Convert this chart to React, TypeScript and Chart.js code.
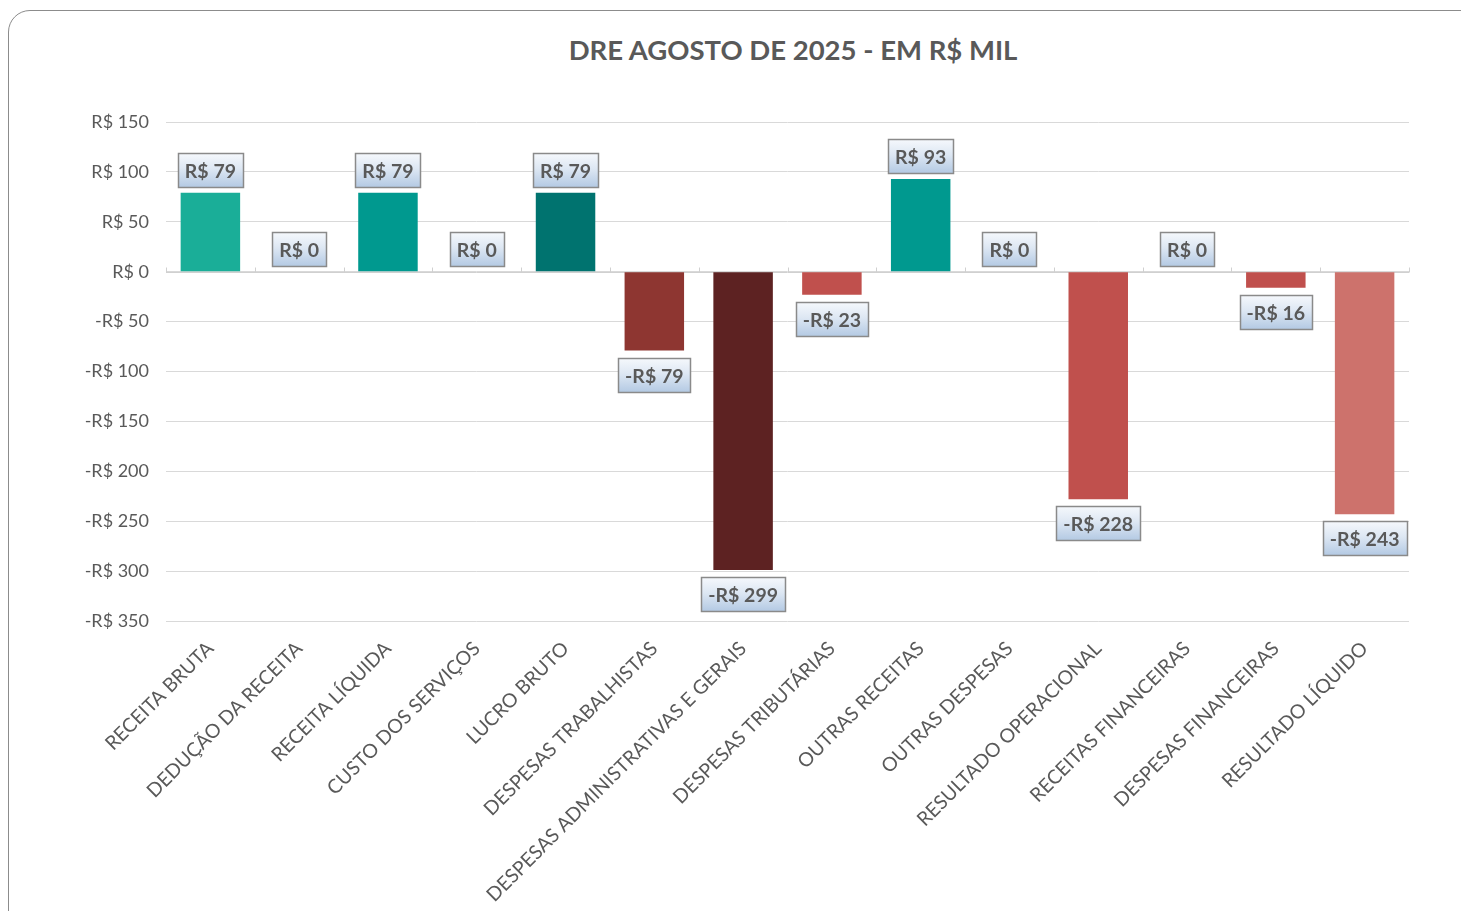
import React, { useEffect, useRef } from "react";
import { Chart, registerables } from "chart.js";

Chart.register(...registerables);

const title = "DRE AGOSTO DE 2025 - EM R$ MIL";

const categories = [
  "RECEITA BRUTA",
  "DEDUÇÃO DA RECEITA",
  "RECEITA LÍQUIDA",
  "CUSTO DOS SERVIÇOS",
  "LUCRO BRUTO",
  "DESPESAS TRABALHISTAS",
  "DESPESAS ADMINISTRATIVAS E GERAIS",
  "DESPESAS TRIBUTÁRIAS",
  "OUTRAS RECEITAS",
  "OUTRAS DESPESAS",
  "RESULTADO OPERACIONAL",
  "RECEITAS FINANCEIRAS",
  "DESPESAS FINANCEIRAS",
  "RESULTADO LÍQUIDO",
];

const values = [79, 0, 79, 0, 79, -79, -299, -23, 93, 0, -228, 0, -16, -243];

const barColors = [
  "#1aae98",
  "#1aae98",
  "#00998f",
  "#00998f",
  "#00736f",
  "#8e3631",
  "#5d2222",
  "#c0504d",
  "#00998f",
  "#00998f",
  "#c0504d",
  "#c0504d",
  "#c0504d",
  "#cd726c",
];

const yMin = -350;
const yMax = 150;
const yStep = 50;

const FONT = "Lato, 'Open Sans', 'DejaVu Sans', sans-serif";
const TEXT = "#595959";

function fmt(v: number): string {
  return (v < 0 ? "-" : "") + "R$ " + Math.abs(Math.round(v));
}

const zeroAxisPlugin = {
  id: "zeroAxis",
  beforeDatasetsDraw(chart: any) {
    const { ctx, chartArea, scales } = chart;
    const y0 = Math.round(scales.y.getPixelForValue(0)) + 0.5;
    ctx.save();
    ctx.strokeStyle = "#d0d0d0";
    ctx.lineWidth = 1;
    ctx.beginPath();
    ctx.moveTo(chartArea.left, y0);
    ctx.lineTo(chartArea.right, y0);
    const n = categories.length;
    const w = (chartArea.right - chartArea.left) / n;
    for (let i = 0; i <= n; i++) {
      const x = Math.round(chartArea.left + i * w) + 0.5;
      ctx.moveTo(x, y0);
      ctx.lineTo(x, y0 - 5);
    }
    ctx.stroke();
    ctx.restore();
  },
};

const boxLabelPlugin = {
  id: "boxLabels",
  afterDatasetsDraw(chart: any) {
    const { ctx } = chart;
    const meta = chart.getDatasetMeta(0);
    ctx.save();
    ctx.font = `bold 19.5px ${FONT}`;
    meta.data.forEach((bar: any, i: number) => {
      const v = values[i];
      const text = fmt(v);
      const tw = ctx.measureText(text).width;
      const w = Math.round(tw + 14);
      const h = 34;
      const x = Math.round(bar.x - w / 2) + 0.5;
      const y = Math.round(v < 0 ? bar.y + 7 : bar.y - 6 - h) + 0.5;
      const g = ctx.createLinearGradient(0, y, 0, y + h);
      g.addColorStop(0, "#f5f8fc");
      g.addColorStop(0.45, "#dde7f3");
      g.addColorStop(1, "#b3c9e3");
      ctx.fillStyle = g;
      ctx.fillRect(x, y, w, h);
      ctx.strokeStyle = "#8a8a8a";
      ctx.lineWidth = 1.5;
      ctx.strokeRect(x, y, w, h);
      ctx.fillStyle = TEXT;
      ctx.textAlign = "center";
      ctx.textBaseline = "middle";
      ctx.fillText(text, bar.x, y + h / 2 + 1);
    });
    ctx.restore();
  },
};

export default function App() {
  const canvasRef = useRef<HTMLCanvasElement | null>(null);

  useEffect(() => {
    let chart: Chart | null = null;
    let cancelled = false;
    const build = () => {
      if (cancelled || !canvasRef.current) return;
      chart = new Chart(canvasRef.current, {
        type: "bar",
        data: {
          labels: categories,
          datasets: [
            {
              data: values,
              backgroundColor: barColors,
              borderWidth: 0,
              barPercentage: 0.67,
              categoryPercentage: 1,
            },
          ],
        },
        options: {
          responsive: false,
          animation: false,
          layout: { padding: { top: 114, right: 60, left: 0, bottom: 0 } },
          plugins: {
            legend: { display: false },
            tooltip: { enabled: false },
            title: { display: false },
          },
          scales: {
            x: {
              grid: { display: false },
              border: { display: false },
              ticks: {
                autoSkip: false,
                maxRotation: 45,
                minRotation: 45,
                padding: 8,
                color: TEXT,
                font: { family: FONT, size: 19.5 },
              },
              afterFit(scale: any) {
                scale.height = 290;
              },
            },
            y: {
              min: yMin,
              max: yMax,
              grid: { color: "#d9d9d9", lineWidth: 1, drawTicks: false },
              border: { display: false },
              ticks: {
                stepSize: yStep,
                padding: 17,
                color: TEXT,
                font: { family: FONT, size: 18 },
                callback: (v: any) => fmt(Number(v)),
              },
              afterFit(scale: any) {
                scale.width = 158;
              },
            },
          },
        },
        plugins: [zeroAxisPlugin, boxLabelPlugin],
      });
    };
    if ((document as any).fonts && (document as any).fonts.load) {
      Promise.all([
        (document as any).fonts.load(`19px Lato`),
        (document as any).fonts.load(`bold 19px Lato`),
      ])
        .catch(() => {})
        .then(build);
    } else {
      build();
    }
    return () => {
      cancelled = true;
      if (chart) chart.destroy();
    };
  }, []);

  return (
    <div
      style={{
        position: "relative",
        width: 1461,
        height: 903,
        overflow: "hidden",
        background: "#fff",
      }}
    >
      <div
        style={{
          position: "absolute",
          left: 0,
          top: 2,
          width: 1570,
          height: 1000,
          border: "1.5px solid #8c8c8c",
          borderRadius: 22,
          boxSizing: "border-box",
        }}
      />
      <div
        style={{
          position: "absolute",
          left: 0,
          top: 26,
          width: 1570,
          textAlign: "center",
          fontFamily: FONT,
          fontWeight: 700,
          fontSize: 27.5,
          lineHeight: "32px",
          color: TEXT,
        }}
      >
        {title}
      </div>
      <canvas
        ref={canvasRef}
        width={1461}
        height={903}
        style={{ position: "absolute", left: 0, top: 0 }}
      />
    </div>
  );
}
